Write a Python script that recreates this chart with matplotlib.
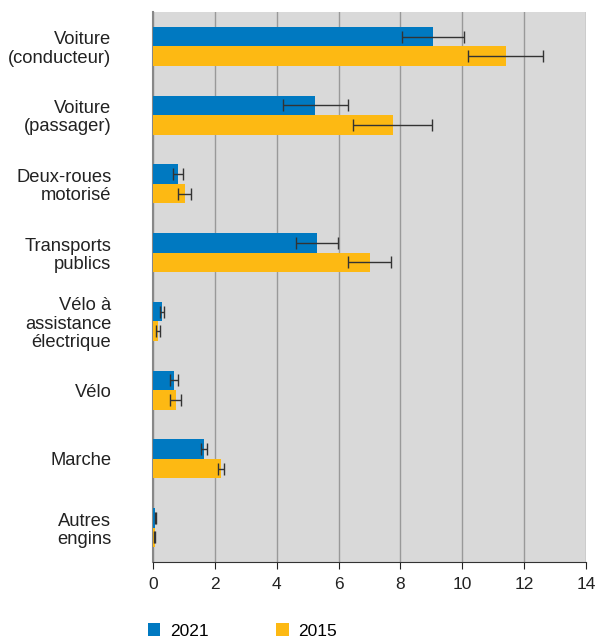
import numpy as np
import matplotlib.pyplot as plt

plt.rcParams['font.family'] = ['Liberation Sans', 'DejaVu Sans']

# Distance moyenne par mode de transport
modes = ['Voiture\n(conducteur)', 'Voiture\n(passager)', 'Deux-roues\nmotorisé',
         'Transports\npublics', 'Vélo à\nassistance\nélectrique', 'Vélo',
         'Marche', 'Autres\nengins']
val_2021 = [9.06, 5.24, 0.81, 5.30, 0.29, 0.68, 1.65, 0.07]
err_2021 = [1.00, 1.05, 0.17, 0.68, 0.06, 0.12, 0.10, 0.02]
val_2015 = [11.40, 7.75, 1.02, 7.01, 0.16, 0.74, 2.21, 0.05]
err_2015 = [1.20, 1.28, 0.22, 0.69, 0.06, 0.18, 0.10, 0.02]

blue = '#0079C1'
yellow = '#FDB913'

fig = plt.figure(figsize=(5.95, 6.38), dpi=100)
ax = fig.add_axes([153 / 595, 1 - 562 / 638, 433 / 595, 550 / 638])

y = np.arange(len(modes))
h = 0.285
ekw = dict(ecolor='#333333', elinewidth=1, capsize=4, capthick=1)
ax.barh(y - h / 2, val_2021, height=h, color=blue, xerr=err_2021,
        error_kw=ekw, label='2021', zorder=3)
ax.barh(y + h / 2, val_2015, height=h, color=yellow, xerr=err_2015,
        error_kw=ekw, label='2015', zorder=3)

ax.set_facecolor('#D9D9D9')
ax.set_xlim(0, 14)
ax.set_xticks(range(0, 15, 2))
ax.set_ylim(len(modes) - 0.5, -0.5)
ax.set_yticks(y)
ax.set_yticklabels(modes, ha='right', fontsize=13.2, color='#222222',
                   linespacing=1.1)
ax.tick_params(axis='y', length=0, pad=30)
ax.tick_params(axis='x', labelsize=12.5, colors='#222222', length=5, pad=6)
ax.grid(axis='x', color='#999999', linewidth=1, zorder=0)

for s in ['top', 'right']:
    ax.spines[s].set_visible(False)
ax.spines['left'].set_color('#888888')
ax.spines['left'].set_linewidth(1.5)
ax.spines['bottom'].set_color('#333333')

fig.legend(loc='center left', bbox_to_anchor=(132 / 595, 1 - 631 / 638), ncol=2,
           frameon=False, fontsize=12.5, handlelength=0.72, handleheight=0.72,
           columnspacing=3.9, handletextpad=0.55)

fig.savefig('out.png', dpi=100)
